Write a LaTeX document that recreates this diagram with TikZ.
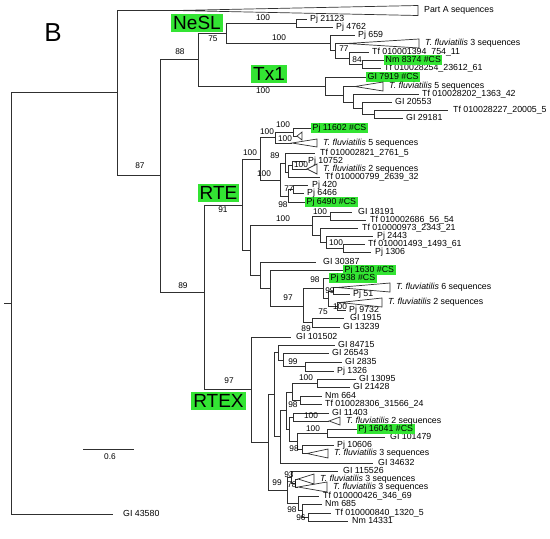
\documentclass[tikz,border=0pt]{standalone}
\usepackage{fontspec}
\setmainfont{Liberation Sans}
\usepackage{xcolor}
\usepackage{tikz}
\definecolor{branch}{HTML}{303030}
\definecolor{csgreen}{HTML}{33E433}
\tikzset{
  br/.style={draw=branch, line width=0.7pt},
  tiplab/.style={anchor=west, inner sep=0pt, font=\fontsize{8.8}{10}\selectfont, text height=6.3pt, text depth=1.8pt},
  cslab/.style={tiplab, fill=csgreen, inner xsep=1.5pt, inner ysep=0.5pt},
  sup/.style={inner sep=0pt, font=\fontsize{8.3}{9}\selectfont},
  clade/.style={fill=csgreen, inner xsep=2pt, inner ysep=1.5pt, font=\fontsize{19}{20}\selectfont, text height=14pt, text depth=1pt},
}

\begin{document}
\begin{tikzpicture}[x=1pt,y=-1pt]
  \useasboundingbox (0,0) rectangle (550,539);
  % internal nodes of the tree
  \coordinate (root) at (11,303);
  \coordinate (stub) at (4,303);
  \foreach \n/\x/\y in {n117/117/92, n160/160/175, n198/198/59, n226/226/33, n296/296/23,
      n330/330/43, nA/335/50, nB/349/58, nC/362/64, nT/325/86, nU/343/95, nV/353/102,
      nW/362/108, nX/374/114,
      n204/204/292, nRTE/242/205, nP/260/159, nQ/275/137, nR/293/132, nS/280/180,
      nS89/285/163, nM2/288/172, nM/292/165, nS98/288/196, nO77/293/189,
      n250/250/250, n312/312/225, nY/330/216, nZ/320/235, nZ2/326/242, nZ3/343/248,
      nX0/260/275, nX2/270/288, nX3/303/306, nX98/323/288, nX75/328/298, nX99/333/291,
      nX100/337/306, nX89/312/322,
      nRTEX/251/389, nR2/268/442, nNI/274/394, nN84/278/352, nN26/283/360, nN99/305/366,
      nNJ/280/436, nNK/286/410, nNL/292/392, nN100a/317/383, nN98a/300/400, nNM/289/429,
      nNA/293/417, nNE/297/441, nNC/327/433, nND/302/449, nR99/287/490, nN93/291/477,
      nN78/295/483, nNX/298/503, nN98c/302/510, nN96/308/517}
    \coordinate (\n) at (\x,\y);

  % tips
  \foreach \n/\xe/\xl/\y/\t in {GI43580/113/123/514/GI 43580,
      Pj21123/307/310/19/Pj 21123, Pj4762/333/336/27/Pj 4762, Pj659/355/358/35/Pj 659,
      Tf1394/369/372/52/Tf 010001394\_754\_11, Tf28254/381/384/68/Tf 010028254\_23612\_61,
      Tf28202/419/422/94/Tf 010028202\_1363\_42, GI20553/392/395/102/GI 20553,
      Tf28227/448/453/110/Tf 010028227\_20005\_5, GI29181/403/406/118/GI 29181,
      Tf2821/315/320/153/Tf 010002821\_2761\_5, Pj10752/305/308/161/Pj 10752,
      Tf799/320/325/177.5/Tf 010000799\_2639\_32, Pj420/308/312/185.5/Pj 420,
      Pj6466/304/307/193.5/Pj 6466, GI18191/352/358/212/GI 18191,
      Tf2686/366/370/220/Tf 010002686\_56\_54, Tf973/358/362/228/Tf 010000973\_2343\_21,
      Pj2443/373/377/236.5/Pj 2443, Tf1493/365/368/244.5/Tf 010001493\_1493\_61,
      Pj1306/371/375/252.5/Pj 1306, GI30387/316/323/262/GI 30387, Pj51/350/353/294/Pj 51,
      Pj9732/346/349/310/Pj 9732, GI1915/344/350/318/GI 1915, GI13239/340/343/327/GI 13239,
      GI101502/291/296/337/GI 101502, GI84715/335/338/345/GI 84715,
      GI26543/329/332/353/GI 26543, GI2835/342/345/362/GI 2835, Pj1326/334/337/371/Pj 1326,
      GI13095/356/359/379/GI 13095, GI21428/350/353/387/GI 21428, Nm664/322/325/396/Nm 664,
      Tf28306/322/325/404/Tf 010028306\_31566\_24, GI11403/329/332/413/GI 11403,
      GI101479/385/390/437/GI 101479, Pj10606/334/337/445/Pj 10606,
      GI34632/373/378/463/GI 34632, GI115526/338/343/471/GI 115526,
      Tf426/319/323/496/Tf 010000426\_346\_69, Nm685/322/325/504/Nm 685,
      Tf840/331/335/513/Tf 010000840\_1320\_5, Nm14331/348/352/521/Nm 14331}{
    \coordinate (\n) at (\xe,\y);
    \node[tiplab] (\n-l) at (\xl,\y) {\t};
  }
  % highlighted sequences
  \foreach \n/\x/\y/\t in {Nm8374/384/60/Nm 8374 \#CS, GI7919/366/77/GI 7919 \#CS,
      Pj11602/311/128/Pj 11602 \#CS, Pj6490/305/202/Pj 6490 \#CS,
      Pj1630/343/270/Pj 1630 \#CS, Pj938/329/278/Pj 938 \#CS, Pj16041/357/429/Pj 16041 \#CS}{
    \coordinate (\n) at (\x,\y);
    \node[cslab] (\n-l) at (\x,\y) {\t};
  }
  % collapsed clades
  \foreach \n/\x/\y/\xr/\h/\t in {PartA/176/10.5/418/5/Part A sequences,
      tri3/347/43.5/419/4.5/\textit{T. fluviatilis} 3 sequences,
      tri5/355/86.5/383/4.5/\textit{T. fluviatilis} 5 sequences,
      tri5b/292/143/317/4/\textit{T. fluviatilis} 5 sequences,
      tri2b/307/169/317/5/\textit{T. fluviatilis} 2 sequences,
      tri6/337/287.5/390/4.5/\textit{T. fluviatilis} 6 sequences,
      tri2c/340/302.5/382/4.5/\textit{T. fluviatilis} 2 sequences,
      tri2d/329/421/340/4/\textit{T. fluviatilis} 2 sequences,
      tri3b/307/453.5/328/4.5/\textit{T. fluviatilis} 3 sequences,
      tri3c/298/479/314/5/\textit{T. fluviatilis} 3 sequences,
      tri3d/298/487/327/5/\textit{T. fluviatilis} 3 sequences}{
    \coordinate (\n) at (\x,\y);
    \draw[br] (\n) -- (\xr,\y-\h) -- (\xr,\y+\h) -- cycle;
    \node[tiplab] (\n-l) at (\xr+6,\y) {\t};
  }
  \coordinate (smalltri) at (297,136);
  \draw[br] (smalltri) -- (302,132) -- (302,140) -- cycle;

  % branches
  \draw[br] (stub) -- (root);
  \foreach \a/\b in {root/n117, root/GI43580, n117/PartA, n117/n160, n160/n198, n160/n204,
      n198/n226, n198/nT, n226/n296, n226/n330, n296/Pj21123, n296/Pj4762, n330/Pj659,
      n330/nA, nA/tri3, nA/nB, nB/Tf1394, nB/nC, nC/Nm8374, nC/Tf28254, nT/GI7919, nT/nU,
      nU/tri5, nU/nV, nV/Tf28202, nV/nW, nW/GI20553, nW/nX, nX/Tf28227, nX/GI29181,
      n204/nRTE, n204/nRTEX, nRTE/nP, nRTE/n250, nP/nQ, nP/nS, nQ/nR, nQ/tri5b,
      nR/Pj11602, nR/smalltri, nS/nS89, nS/nS98, nS89/Tf2821, nS89/nM2, nM2/nM, nM2/Tf799,
      nM/Pj10752, nM/tri2b, nS98/nO77, nS98/Pj6490, nO77/Pj420, nO77/Pj6466,
      n250/n312, n250/nX0, n312/nY, n312/nZ, nY/GI18191, nY/Tf2686, nZ/Tf973, nZ/nZ2,
      nZ2/Pj2443, nZ2/nZ3, nZ3/Tf1493, nZ3/Pj1306, nX0/GI30387, nX0/nX2, nX2/Pj1630,
      nX2/nX3, nX3/nX98, nX3/nX89, nX98/Pj938, nX98/nX75, nX75/nX99, nX75/nX100,
      nX99/tri6, nX99/Pj51, nX100/tri2c, nX100/Pj9732, nX89/GI1915, nX89/GI13239,
      nRTEX/GI101502, nRTEX/nR2, nR2/nNI, nR2/nR99, nNI/nN84, nNI/nNJ, nN84/GI84715,
      nN84/nN26, nN26/GI26543, nN26/nN99, nN99/GI2835, nN99/Pj1326, nNJ/nNK, nNJ/GI34632,
      nNK/nNL, nNK/nNM, nNL/nN100a, nNL/nN98a, nN100a/GI13095, nN100a/GI21428,
      nN98a/Nm664, nN98a/Tf28306, nNM/nNA, nNM/nNE, nNA/GI11403, nNA/tri2d, nNE/nNC,
      nNE/nND, nNC/Pj16041, nNC/GI101479, nND/Pj10606, nND/tri3b, nR99/nN93, nR99/nNX,
      nN93/GI115526, nN93/nN78, nN78/tri3c, nN78/tri3d, nNX/Tf426, nNX/nN98c,
      nN98c/Nm685, nN98c/nN96, nN96/Tf840, nN96/Nm14331}
    \draw[br] (\a) |- (\b);

  % support values
  \foreach \x/\y/\t [count=\i] in {263/18/100, 213/39/75, 279/38/100, 180/52/88, 344/49/77,
      357/60/84, 263/91/100, 140/166/87, 183/286/89, 223/210/91, 250/153/100, 267/132/100,
      283/125/100, 285/139/100, 275/156/89, 301/165/100, 264/174/100, 289/189/77, 283/205/98,
      283/219/100, 320/212/100, 336/243/100, 288/298/97, 315/280/98, 330/291/99, 323/312/75,
      340/307/100, 306/329/89, 229/381/97, 293/362/99, 306/378/100, 293/405/98, 311/416/100,
      313/429/100, 294/449/98, 289/475/93, 277/483/99, 292/485/78, 292/510/98, 301/518/96}
    \node[sup] (s\i) at (\x,\y) {\t};

  % clade names
  \node[clade] (nesl) at (197,23) {NeSL};
  \node[clade] (tx1) at (269,74) {Tx1};
  \node[clade] (rte) at (218.5,192.5) {RTE};
  \node[clade] (rtex) at (218.5,401) {RTEX};
  \node[inner sep=0pt, font=\fontsize{26}{28}\selectfont] (panel) at (53,33) {B};

  % scale bar
  \coordinate (sb0) at (83,449);
  \coordinate (sb1) at (134,449);
  \draw[br] (sb0) -- (sb1);
  \node[sup] (sbl) at (110,457) {0.6};
\end{tikzpicture}
\end{document}
